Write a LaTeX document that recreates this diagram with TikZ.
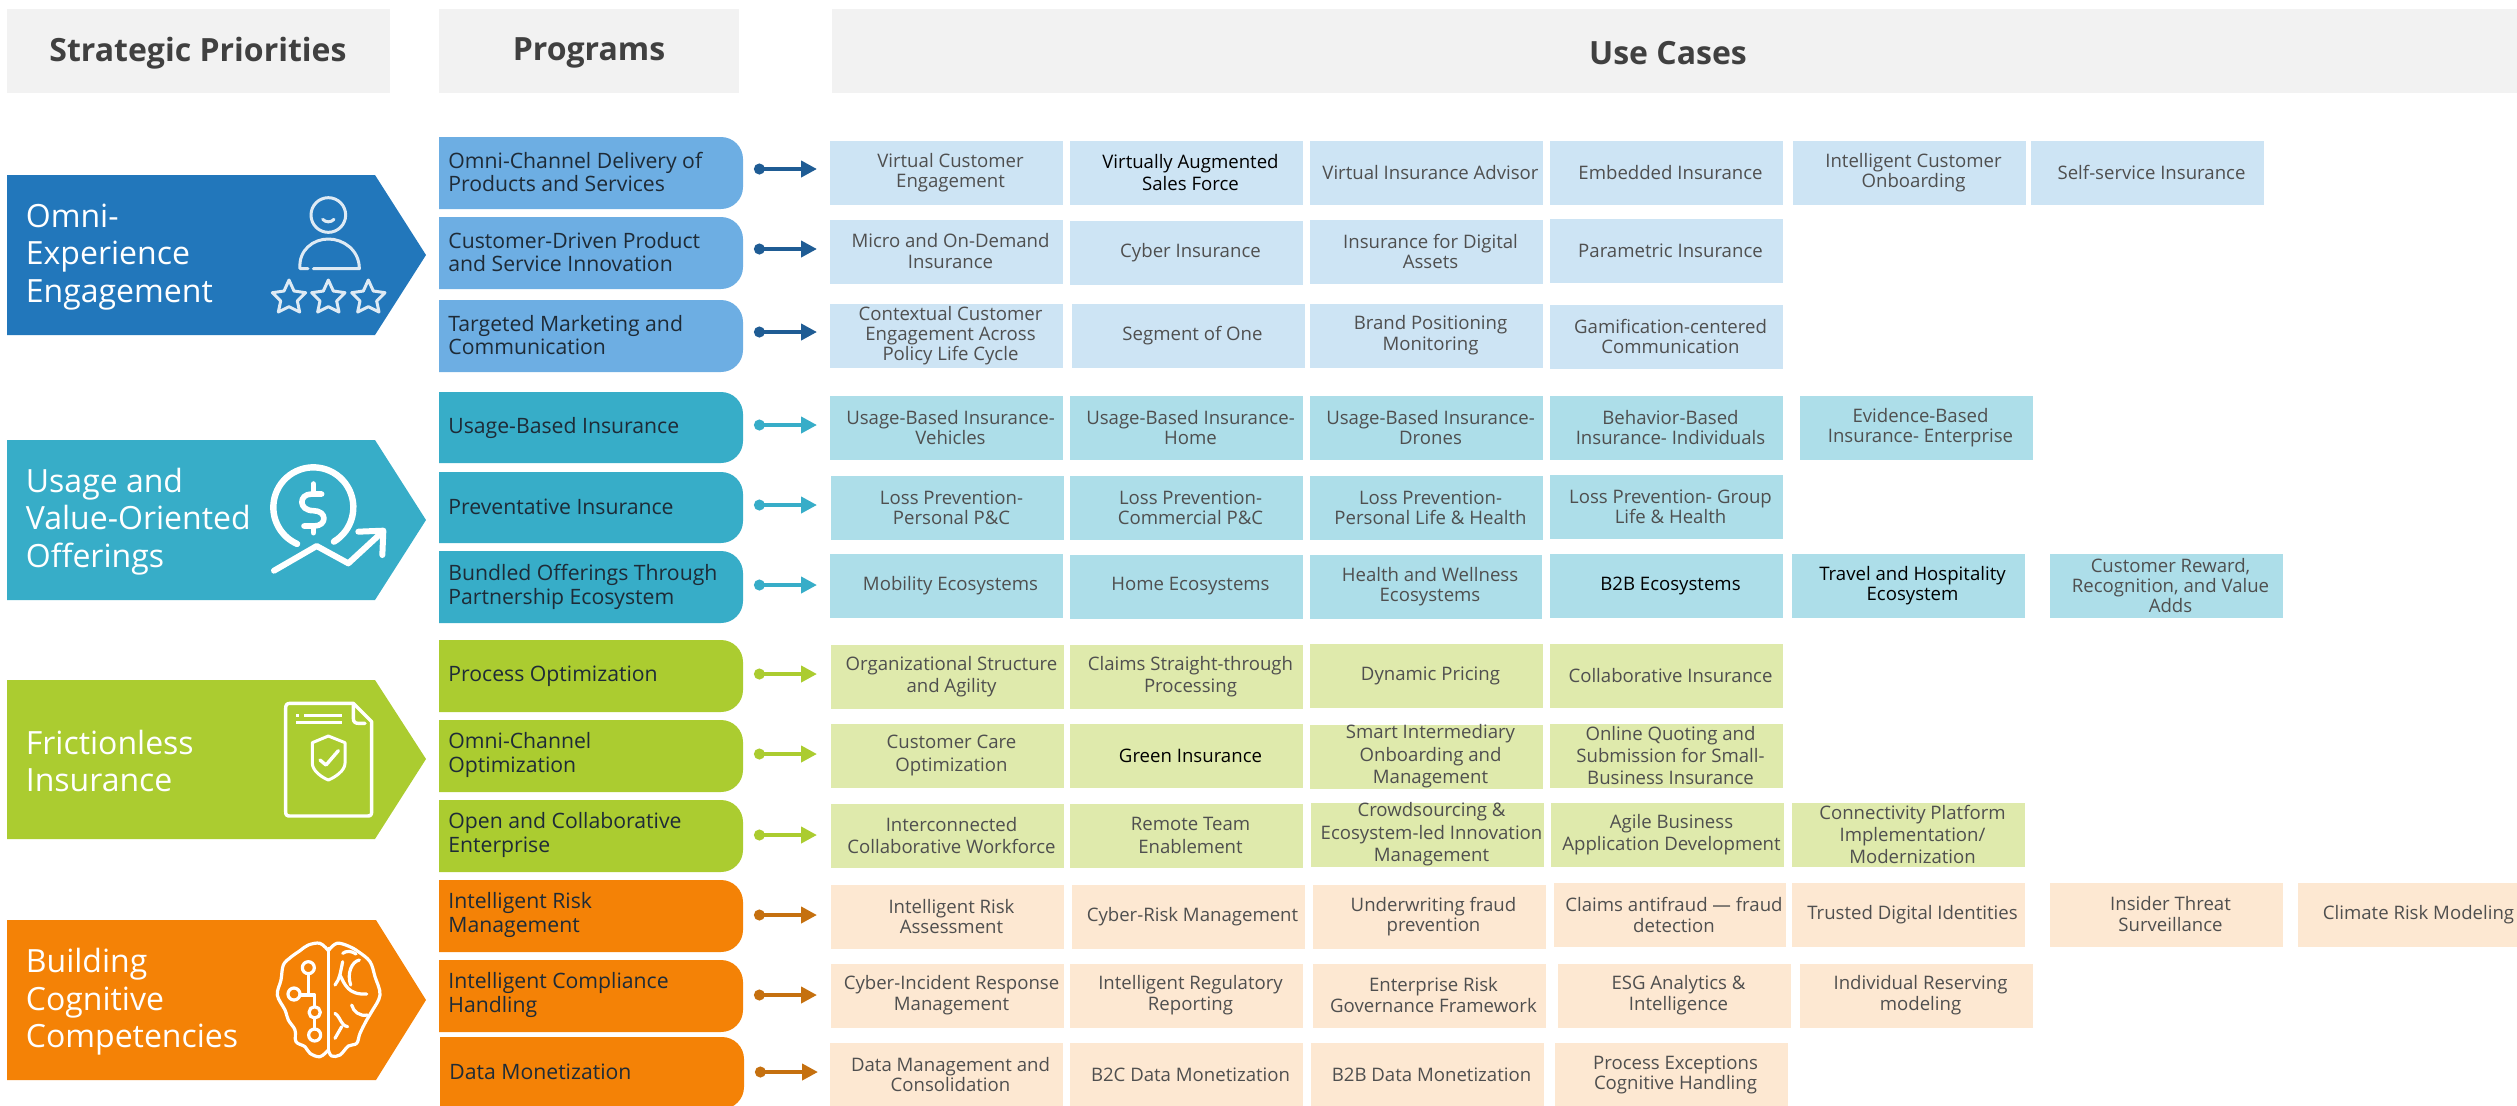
\documentclass[tikz,border=0pt]{standalone}
\usepackage{fontspec}
\setmainfont{Open Sans}
\usetikzlibrary{arrows.meta}
\definecolor{hdrbg}{HTML}{F2F2F2}
\definecolor{hdrink}{HTML}{404040}
\definecolor{cellink}{HTML}{4F4F4F}
\definecolor{progink}{HTML}{1E2B37}
\definecolor{chblue}{HTML}{2277BB}
\definecolor{chcyan}{HTML}{37ADC8}
\definecolor{chgreen}{HTML}{ABCC30}
\definecolor{chorange}{HTML}{F48206}
\definecolor{pgblue}{HTML}{6DAEE3}
\definecolor{arblue}{HTML}{1F5C94}
\definecolor{arorange}{HTML}{C5700F}
\definecolor{clblue}{HTML}{CDE4F4}
\definecolor{clcyan}{HTML}{ADDEE9}
\definecolor{clgreen}{HTML}{DFEAAC}
\definecolor{clpeach}{HTML}{FDE8D2}
\tikzset{
  hdrbox/.style={fill=hdrbg,draw=none,inner sep=0pt},
  hdrtext/.style={text=hdrink,inner sep=0pt,font=\fontsize{16}{20}\selectfont\bfseries},
  chevtext/.style={text=white,inner sep=0pt,anchor=west,align=left,font=\fontsize{16}{18.75}\selectfont},
  progtext/.style={text=progink,inner sep=0pt,anchor=west,align=left,font=\fontsize{10.6}{11.9}\selectfont},
  cellbox/.style={draw=none,inner sep=0pt},
  celltext/.style={text=cellink,inner sep=0pt,align=center,font=\fontsize{9.3}{10}\selectfont},
  lsb/.style={font=\fontsize{9.3}{10.5}\selectfont},
  lsc/.style={font=\fontsize{9.3}{11.2}\selectfont},
  darkt/.style={text=black},
  flow/.style={line width=2pt,{Circle[length=5.4pt,width=5.4pt]}-{Triangle[length=8pt,width=8pt]}},
  iconline/.style={draw=white,line width=1.6pt,line cap=round,line join=round,fill=none}
}
\newcommand\ucell[7][]{%
  \pgfmathsetmacro\cx{(#3+#5)/2}\pgfmathsetmacro\cy{(#4+#6)/2}%
  \pgfmathsetmacro\cw{(#5-#3)*.5}\pgfmathsetmacro\ch{(#6-#4)*.5}%
  \node[cellbox,fill=\rowfill,minimum width=\cw pt,minimum height=\ch pt] (#2) at (\cx,\cy) {};
  \node[celltext,#1] (#2-t) at (\cx+4,\cy-0.5) {#7};
}
% name, x1, y1, x2, y2, fill, text y, arrow y, text
\newcommand\progbox[9]{%
  \fill[#6] (#2,#3) [rounded corners=11pt] -- (#4,#3) -- (#4,#5) [sharp corners] -- (#2,#5) -- cycle;
  \node[progtext] (#1) at (#2+9,#7) {#9};
  \coordinate (#1-s) at (#2+315,#8);
  \coordinate (#1-e) at (#2+378,#8);
}
\begin{document}
\begin{tikzpicture}[x=0.5pt,y=-0.5pt]
\useasboundingbox (0,0) rectangle (2517,1105);
% headers
\node[hdrbox,minimum width=191.5pt,minimum height=42pt] (h1) at (198.5,51) {};
\node[hdrbox,minimum width=150pt,minimum height=42pt] (h2) at (589,51) {};
\node[hdrbox,minimum width=842.5pt,minimum height=42pt] (h3) at (1674.5,51) {};
\node[hdrtext] (h1t) at (198,53) {Strategic Priorities};
\node[hdrtext] (h2t) at (589,53) {Programs};
\node[hdrtext] (h3t) at (1668,53) {Use Cases};
% chevrons
\fill[chblue] (7,175) -- (375,175) -- (426,255) -- (375,335) -- (7,335) -- cycle;
\fill[chcyan] (7,440) -- (375,440) -- (426,520) -- (375,600) -- (7,600) -- cycle;
\fill[chgreen] (7,680) -- (375,680) -- (426,759) -- (375,839) -- (7,839) -- cycle;
\fill[chorange] (7,920) -- (376,920) -- (426,1000) -- (376,1080) -- (7,1080) -- cycle;
\node[chevtext] (s1) at (25.5,257) {Omni-\\Experience\\Engagement};
\node[chevtext] (s2) at (25.5,521.5) {Usage and\\Value-Oriented\\Offerings};
\node[chevtext] (s3) at (25.5,761) {Frictionless\\Insurance};
\node[chevtext] (s4) at (25.5,1002) {Building\\Cognitive\\Competencies};
% programs
\progbox{p1}{439}{137}{743}{209}{pgblue}{172}{169}{Omni-Channel Delivery of\\Products and Services}
\progbox{p2}{439}{217}{743}{289}{pgblue}{252}{249}{Customer-Driven Product\\and Service Innovation}
\progbox{p3}{439}{300}{743}{372}{pgblue}{335}{332}{Targeted Marketing and\\Communication}
\progbox{p4}{439}{392}{743}{463}{chcyan}{428}{425}{Usage-Based Insurance}
\progbox{p5}{439}{472}{743}{543}{chcyan}{507}{505}{Preventative Insurance}
\progbox{p6}{439}{551}{743}{623}{chcyan}{587}{585}{Bundled Offerings Through\\Partnership Ecosystem}
\progbox{p7}{439}{640}{743}{712}{chgreen}{676}{674}{Process Optimization}
\progbox{p8}{439}{720}{743}{792}{chgreen}{755}{754}{Omni-Channel\\Optimization}
\progbox{p9}{439}{800}{743}{872}{chgreen}{835}{835}{Open and Collaborative\\Enterprise}
\progbox{p10}{439}{880}{743}{952}{chorange}{915}{915}{Intelligent Risk\\Management}
\progbox{p11}{439}{960}{743}{1032}{chorange}{995}{995}{Intelligent Compliance\\Handling}
\progbox{p12}{440}{1037}{744}{1109}{chorange}{1072}{1072}{Data Monetization}
% connectors
\foreach \n in {p1,p2,p3} \draw[flow,arblue] (\n-s) -- (\n-e);
\foreach \n in {p4,p5,p6} \draw[flow,chcyan] (\n-s) -- (\n-e);
\foreach \n in {p7,p8,p9} \draw[flow,chgreen] (\n-s) -- (\n-e);
\foreach \n in {p10,p11,p12} \draw[flow,arorange] (\n-s) -- (\n-e);
% use cases
\def\rowfill{clblue}
\ucell{a1}{830}{141}{1063}{205}{Virtual Customer\\Engagement}
\ucell[lsc,darkt]{a2}{1070}{141}{1303}{205}{Virtually Augmented\\Sales Force}
\ucell{a3}{1310}{141}{1543}{205}{Virtual Insurance Advisor}
\ucell{a4}{1550}{141}{1783}{205}{Embedded Insurance}
\ucell{a5}{1793}{141}{2026}{205}{Intelligent Customer\\Onboarding}
\ucell{a6}{2031}{141}{2264}{205}{Self-service Insurance}
\ucell[lsb]{b1}{830}{220}{1063}{284}{Micro and On-Demand\\Insurance}
\ucell{b2}{1070}{221}{1303}{285}{Cyber Insurance}
\ucell{b3}{1310}{220}{1543}{284}{Insurance for Digital\\Assets}
\ucell{b4}{1550}{219}{1783}{283}{Parametric Insurance}
\ucell{c1}{830}{304}{1063}{368}{Contextual Customer\\Engagement Across\\Policy Life Cycle}
\ucell{c2}{1072}{304}{1305}{368}{Segment of One}
\ucell[lsb]{c3}{1310}{304}{1543}{368}{Brand Positioning\\Monitoring}
\ucell{c4}{1550}{305}{1783}{369}{Gamification-centered\\Communication}
\def\rowfill{clcyan}
\ucell{d1}{830}{396}{1063}{460}{Usage-Based Insurance-\\Vehicles}
\ucell{d2}{1070}{396}{1303}{460}{Usage-Based Insurance-\\Home}
\ucell{d3}{1310}{396}{1543}{460}{Usage-Based Insurance-\\Drones}
\ucell{d4}{1550}{396}{1783}{460}{Behavior-Based\\Insurance- Individuals}
\ucell{d5}{1800}{396}{2033}{460}{Evidence-Based\\Insurance- Enterprise}
\ucell{e1}{831}{476}{1064}{540}{Loss Prevention-\\Personal P\&C}
\ucell{e2}{1070}{476}{1303}{540}{Loss Prevention-\\Commercial P\&C}
\ucell{e3}{1310}{476}{1543}{540}{Loss Prevention-\\Personal Life \& Health}
\ucell{e4}{1550}{475}{1783}{539}{Loss Prevention- Group\\Life \& Health}
\ucell{f1}{830}{554}{1063}{618}{Mobility Ecosystems}
\ucell{f2}{1070}{555}{1303}{619}{Home Ecosystems}
\ucell{f3}{1310}{555}{1542}{619}{Health and Wellness\\Ecosystems}
\ucell[darkt]{f4}{1550}{554}{1783}{618}{B2B Ecosystems}
\ucell[darkt]{f5}{1792}{554}{2025}{618}{Travel and Hospitality\\Ecosystem}
\ucell{f6}{2050}{554}{2283}{618}{Customer Reward,\\Recognition, and Value\\Adds}
\def\rowfill{clgreen}
\ucell[lsc]{g1}{831}{645}{1064}{709}{Organizational Structure\\and Agility}
\ucell[lsc]{g2}{1070}{645}{1303}{709}{Claims Straight-through\\Processing}
\ucell{g3}{1310}{644}{1543}{708}{Dynamic Pricing}
\ucell{g4}{1550}{644}{1783}{708}{Collaborative Insurance}
\ucell[lsc]{h1c}{831}{724}{1064}{788}{Customer Care\\Optimization}
\ucell[darkt]{h2c}{1070}{724}{1303}{788}{Green Insurance}
\ucell[lsc]{h3c}{1310}{725}{1543}{789}{Smart Intermediary\\Onboarding and\\Management}
\ucell[lsc]{h4c}{1550}{724}{1783}{788}{Online Quoting and\\Submission for Small-\\Business Insurance}
\ucell[lsc]{i1}{831}{804}{1064}{868}{Interconnected\\Collaborative Workforce}
\ucell[lsc]{i2}{1070}{804}{1303}{868}{Remote Team\\Enablement}
\ucell[lsc]{i3}{1311}{803}{1544}{867}{Crowdsourcing \&\\Ecosystem-led Innovation\\Management}
\ucell[lsc]{i4}{1551}{803}{1784}{867}{Agile Business\\Application Development}
\ucell[lsc]{i5}{1792}{803}{2025}{867}{Connectivity Platform\\Implementation/\\Modernization}
\def\rowfill{clpeach}
\ucell{j1}{831}{885}{1064}{949}{Intelligent Risk\\Assessment}
\ucell{j2}{1072}{885}{1305}{949}{Cyber-Risk Management}
\ucell{j3}{1313}{885}{1546}{949}{Underwriting fraud\\prevention}
\ucell[lsb]{j4}{1554}{883}{1786}{947}{Claims antifraud — fraud\\detection}
\ucell{j5}{1792}{883}{2025}{947}{Trusted Digital Identities}
\ucell[lsb]{j6}{2050}{883}{2283}{947}{Insider Threat\\Surveillance}
\ucell{j7}{2298}{883}{2531}{947}{Climate Risk Modeling}
\ucell[lsb]{k1}{831}{964}{1064}{1028}{Cyber-Incident Response\\Management}
\ucell[lsb]{k2}{1070}{964}{1303}{1028}{Intelligent Regulatory\\Reporting}
\ucell[lsb]{k3}{1313}{964}{1546}{1028}{Enterprise Risk\\Governance Framework}
\ucell[lsb]{k4}{1558}{964}{1791}{1028}{ESG Analytics \&\\Intelligence}
\ucell[lsb]{k5}{1800}{964}{2033}{1028}{Individual Reserving\\modeling}
\ucell{l1}{830}{1043}{1063}{1107}{Data Management and\\Consolidation}
\ucell{l2}{1070}{1043}{1303}{1107}{B2C Data Monetization}
\ucell{l3}{1311}{1043}{1544}{1107}{B2B Data Monetization}
\ucell{l4}{1555}{1043}{1788}{1107}{Process Exceptions\\Cognitive Handling}
% icon 1: person with stars
\begin{scope}[shift={(240,140)},x=0.16667pt,y=-0.16667pt,draw opacity=.85]
\draw[iconline,line width=1.5pt] (265,225) circle[radius=52];
\draw[iconline,line width=1.5pt] (248,238) .. controls (258,248) and (272,248) .. (282,238);
\draw[iconline,line width=1.5pt] (204,386) -- (180,386) .. controls (175,330) and (220,297) .. (265,297) .. controls (310,297) and (358,330) .. (358,386) -- (220,386);
\foreach \sx in {147,265,385}{
  \draw[iconline,line width=1.5pt] (\sx,420) -- (\sx+15,453) -- (\sx+50,458) -- (\sx+25,483) -- (\sx+32,516) -- (\sx,500) -- (\sx-32,516) -- (\sx-25,483) -- (\sx-50,458) -- (\sx-15,453) -- cycle;
}
\end{scope}
% icon 2: dollar and trend
\begin{scope}[shift={(220,420)},x=0.16667pt,y=-0.16667pt]
\draw[iconline,line width=3.2pt] ([shift={(-59:20pt)}]280,262) arc[start angle=-59,end angle=246,radius=20pt];
\draw[iconline,line width=2.8pt] (305,222) -- (275,222) .. controls (235,222) and (235,272) .. (280,272) .. controls (322,272) and (322,318) .. (282,318) -- (252,318);
\draw[iconline,line width=2.8pt] (280,192) -- (280,222) (280,318) -- (280,338);
\draw[iconline,line width=3pt] (162,452) -- (290,378) -- (385,430) -- (488,335);
\draw[iconline,line width=3pt] (415,335) -- (490,332) -- (487,405);
\end{scope}
% icon 3: document with shield
\begin{scope}[shift={(220,680)},x=0.16667pt,y=-0.16667pt]
\draw[iconline,line width=1.7pt] (400,70) -- (210,70) .. controls (200,70) and (197,75) .. (197,85) -- (197,395) .. controls (197,405) and (200,408) .. (210,408) -- (442,408) .. controls (452,408) and (455,405) .. (455,395) -- (455,125) -- cycle;
\draw[iconline,line width=1.7pt] (400,75) -- (400,115) .. controls (400,125) and (405,130) .. (415,130) -- (435,130);
\draw[iconline,line width=1.7pt,line cap=butt] (228,106) -- (238,106) (252,106) -- (365,106) (228,128) -- (365,128);
\draw[iconline,line width=1.5pt] (325,168) -- (277,188) -- (277,250) .. controls (277,272) and (305,292) .. (325,300) .. controls (345,292) and (375,272) .. (375,250) -- (375,188) -- cycle;
\draw[iconline,line width=1.7pt] (300,240) -- (318,255) -- (355,212);
\end{scope}
% icon 4: brain
\begin{scope}[shift={(220,920)},x=0.16667pt,y=-0.16667pt]
\draw[iconline,line width=1.6pt] plot[smooth,tension=.6] coordinates {(325,92) (300,70) (265,75) (240,92) (212,112) (190,135) (183,180) (172,225) (195,270) (205,300) (225,330) (228,365) (255,380) (270,400) (300,410) (325,390)};
\draw[iconline,line width=1.6pt] plot[smooth,tension=.6] coordinates {(325,92) (350,70) (385,78) (415,95) (450,125) (465,170) (480,225) (455,275) (440,300) (420,340) (410,370) (385,378) (360,405) (335,408) (325,390)};
\draw[iconline,line width=1.6pt] (325,85) -- (325,392);
\draw[iconline,line width=1.6pt] (265,143) circle[radius=18] (222,222) circle[radius=18] (284,277) circle[radius=17] (284,345) circle[radius=18];
\draw[iconline,line width=1.6pt] (265,161) -- (265,225) -- (284,225) -- (284,260) (240,225) -- (265,225) (284,294) -- (284,327);
\draw[iconline,line width=1.6pt] (368,125) .. controls (362,155) and (358,180) .. (345,195);
\draw[iconline,line width=1.6pt] (360,165) .. controls (375,195) and (385,225) .. (440,222);
\draw[iconline,line width=1.6pt] (368,100) .. controls (378,92) and (395,92) .. (408,102);
\draw[iconline,line width=1.6pt] (418,120) .. controls (395,125) and (380,160) .. (392,195);
\draw[iconline,line width=1.6pt] (395,255) .. controls (400,275) and (420,290) .. (442,285);
\draw[iconline,line width=1.6pt] (345,280) .. controls (365,295) and (360,315) .. (383,320);
\draw[iconline,line width=1.6pt] (365,320) -- (345,355);
\end{scope}
\end{tikzpicture}
\end{document}
